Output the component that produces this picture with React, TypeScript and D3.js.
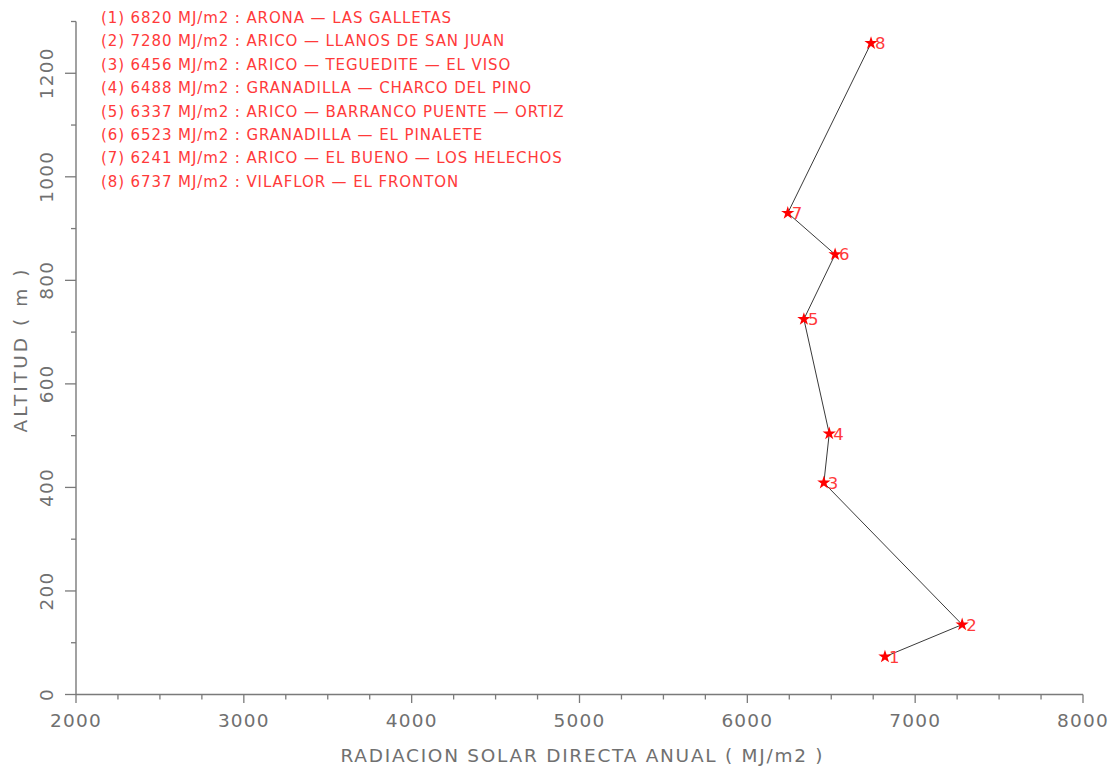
import React from "react";
import * as d3 from "d3";

const stationIds = [1, 2, 3, 4, 5, 6, 7, 8];
const radiation = [6820, 7280, 6456, 6488, 6337, 6523, 6241, 6737];
const altitude = [73, 135, 409, 504, 725, 850, 930, 1258];
const stationNames = [
  "ARONA — LAS GALLETAS",
  "ARICO — LLANOS DE SAN JUAN",
  "ARICO — TEGUEDITE — EL VISO",
  "GRANADILLA — CHARCO DEL PINO",
  "ARICO — BARRANCO PUENTE — ORTIZ",
  "GRANADILLA — EL PINALETE",
  "ARICO — EL BUENO — LOS HELECHOS",
  "VILAFLOR — EL FRONTON",
];
const xMajorTicks = [2000, 3000, 4000, 5000, 6000, 7000, 8000];
const yMajorTicks = [0, 200, 400, 600, 800, 1000, 1200];
const xTitle = "RADIACION SOLAR DIRECTA ANUAL ( MJ/m2 )";
const yTitle = "ALTITUD ( m )";

const W = 1113;
const H = 766;
const FONT = "'DejaVu Sans', sans-serif";
const AXIS = "#7a7a7a";
const TEXT = "#707070";
const RED = "#ff3a3a";

export default function App() {
  const x = d3.scaleLinear().domain([2000, 8000]).range([76, 1083]);
  const y = d3.scaleLinear().domain([0, 1300]).range([694.5, 21.5]);

  const xMinor = d3.range(2000, 8001, 250).filter((v) => v % 1000 !== 0);
  const yMinor = d3.range(0, 1301, 100).filter((v) => v % 200 !== 0);

  const pts = radiation.map((r, i) => [x(r), y(altitude[i])] as [number, number]);
  const line = d3.line()(pts) || "";
  const star = d3.symbol().type(d3.symbolStar).size(55)() || "";

  const x0 = x(2000);
  const y0 = y(0);

  return (
    <svg
      width={W}
      height={H}
      style={{ position: "absolute", left: 0, top: 0, background: "#fff" }}
      fontFamily={FONT}
    >
      {/* axes */}
      <line x1={x0} x2={x(8000)} y1={y0} y2={y0} stroke={AXIS} strokeWidth={1.4} />
      <line x1={x0} x2={x0} y1={y(1300)} y2={y0} stroke={AXIS} strokeWidth={1.4} />
      {xMajorTicks.map((v) => (
        <line key={"xm" + v} x1={x(v)} x2={x(v)} y1={y0} y2={y0 + 8.5} stroke={AXIS} strokeWidth={1.3} />
      ))}
      {xMinor.map((v) => (
        <line key={"xn" + v} x1={x(v)} x2={x(v)} y1={y0} y2={y0 + 5} stroke={AXIS} strokeWidth={1.3} />
      ))}
      {yMajorTicks.map((v) => (
        <line key={"ym" + v} x1={x0 - 11} x2={x0} y1={y(v)} y2={y(v)} stroke={AXIS} strokeWidth={1.3} />
      ))}
      {yMinor.map((v) => (
        <line key={"yn" + v} x1={x0 - 5} x2={x0} y1={y(v)} y2={y(v)} stroke={AXIS} strokeWidth={1.3} />
      ))}
      {xMajorTicks.map((v) => (
        <text key={"xl" + v} x={x(v)} y={727} textAnchor="middle" fontSize={18.5} fill={TEXT} letterSpacing={1.2}>
          {v}
        </text>
      ))}
      {yMajorTicks.map((v) => (
        <text
          key={"yl" + v}
          transform={`translate(53,${y(v)}) rotate(-90)`}
          textAnchor="middle"
          fontSize={18.5}
          fill={TEXT}
          letterSpacing={1.2}
        >
          {v}
        </text>
      ))}
      <text x={581.5} y={762} textAnchor="middle" fontSize={18.5} fill={TEXT} textLength={482} lengthAdjust="spacing">
        {xTitle}
      </text>
      <text
        transform={`translate(27,351) rotate(-90)`}
        textAnchor="middle"
        fontSize={18.5}
        fill={TEXT}
        textLength={163}
        lengthAdjust="spacing"
      >
        {yTitle}
      </text>

      {/* legend */}
      {stationIds.map((id, i) => (
        <text key={"lg" + id} x={101} y={23 + i * 23.4} fontSize={15} fill={RED} letterSpacing={0.9}>
          {`(${id}) ${radiation[i]} MJ/m2 : ${stationNames[i]}`}
        </text>
      ))}

      {/* series */}
      <path d={line} fill="none" stroke="#3a3a3a" strokeWidth={1} />
      {pts.map(([px, py], i) => (
        <g key={"pt" + i}>
          <path d={star} transform={`translate(${px},${py})`} fill="#ff0000" />
          <text x={px + 4} y={py + 6} fontSize={16.5} fill={RED}>
            {stationIds[i]}
          </text>
        </g>
      ))}
    </svg>
  );
}
